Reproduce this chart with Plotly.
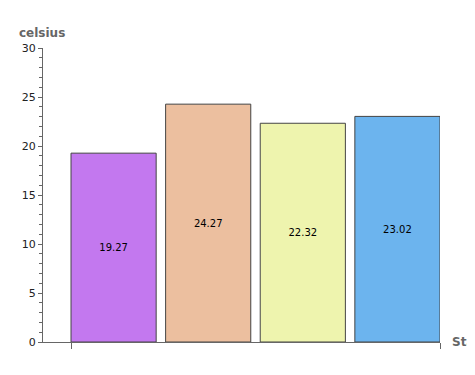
import plotly.graph_objects as go

categories = ["Station 1", "Station 2", "Station 3", "Station 4"]
values = [19.27, 24.27, 22.32, 23.02]
colors = ["#c378ef", "#ecbf9f", "#eef4ae", "#6cb4ee"]
y_tick_vals = [0, 5, 10, 15, 20, 25, 30]

xpos = list(range(len(categories)))

fig = go.Figure(go.Bar(
    x=xpos, y=values, width=0.9,
    marker=dict(color=colors, line=dict(color="#444444", width=1)),
    text=[f"{v:.2f}" for v in values],
    textposition="inside", insidetextanchor="middle",
    textfont=dict(family="DejaVu Sans", size=10, color="#000000"),
    hovertext=categories, textangle=0,
))

fig.update_layout(
    width=467, height=367,
    margin=dict(l=35, r=35, t=40, b=33),
    plot_bgcolor="white", paper_bgcolor="white",
    showlegend=False,
    font=dict(family="DejaVu Sans", size=11, color="#333333"),
    xaxis=dict(range=[-0.746, 3.45], showgrid=False, zeroline=False,
               showline=True, linecolor="#666666", linewidth=1,
               tickvals=[-0.45, 3.45], ticktext=["", ""],
               ticks="outside", ticklen=6, tickcolor="#666666"),
    yaxis=dict(range=[0, 30], showgrid=False, zeroline=False,
               showline=True, linecolor="#666666", linewidth=1,
               tickvals=y_tick_vals, ticks="outside", ticklen=4,
               tickcolor="#666666", tickfont=dict(size=11, color="#222222"),
               minor=dict(dtick=1, ticks="outside", ticklen=3, tickcolor="#666666")),
    annotations=[
        dict(text="<b>celsius</b>", xref="paper", yref="paper", x=0, y=1.0,
             xshift=-1, yshift=15, xanchor="center", yanchor="middle", showarrow=False,
             font=dict(size=12, color="#666666")),
        dict(text="<b>Station</b>", xref="paper", yref="paper", x=1.0, y=0,
             xshift=10, xanchor="left", yanchor="middle", showarrow=False,
             font=dict(size=12, color="#666666")),
    ],
)

fig.write_html("out.html")
